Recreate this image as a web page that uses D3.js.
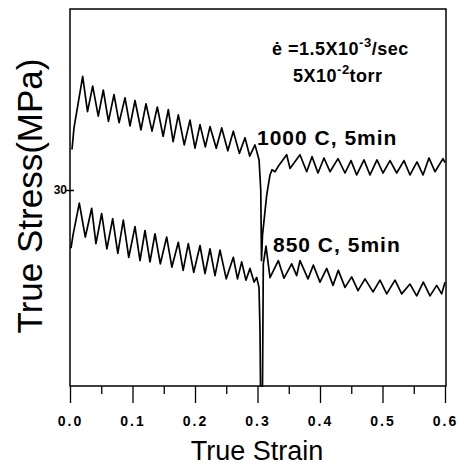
<!DOCTYPE html>
<html><head><meta charset="utf-8">
<script src="https://cdn.jsdelivr.net/npm/d3@7"></script>
<style>html,body{margin:0;padding:0;background:#fff;}svg{display:block;}</style>
</head><body>
<script>
// ---- data (strain, stress in MPa) ----
const xTicks = [0, 0.1, 0.2, 0.3, 0.4, 0.5, 0.6];
const xMinorTicks = [0.05, 0.15, 0.25, 0.35, 0.45, 0.55];
const yTicks = [30];
const labels = ["1000 C, 5min", "850 C, 5min"];
const curve1000 = [
[0.0032,36.2],[0.0064,39.5],[0.0203,47.4],[0.028,42.0],[0.0363,45.9],[0.0452,41.3],[0.0533,45.3],[0.0615,40.5],
[0.0704,44.6],[0.0785,40.3],[0.088,44.1],[0.096,39.8],[0.104,43.7],[0.1135,39.2],[0.1216,43.2],[0.1312,39.0],
[0.1397,42.7],[0.149,38.2],[0.1573,42.3],[0.165,37.4],[0.1733,41.5],[0.1828,36.9],[0.192,40.7],[0.2,36.4],
[0.208,40.0],[0.2165,36.6],[0.224,39.7],[0.234,36.4],[0.2427,39.5],[0.2525,36.0],[0.2613,39.0],[0.271,35.6],
[0.28,38.0],[0.2875,35.2],[0.296,36.9],[0.3025,34.6],[0.3052,30.0],[0.3064,19.2],[0.308,23.1],[0.3147,29.2],
[0.32,32.3],[0.3232,33.1],[0.328,32.8],[0.3344,33.8],[0.3467,35.4],[0.352,33.3],[0.368,35.4],[0.3787,32.8],
[0.3872,35.1],[0.3968,32.6],[0.4064,34.9],[0.416,32.8],[0.4288,34.8],[0.44,32.6],[0.4496,34.5],[0.4587,32.3],
[0.4704,34.6],[0.48,32.3],[0.4912,34.6],[0.5008,32.6],[0.512,34.5],[0.5227,32.6],[0.5344,34.5],[0.544,32.3],
[0.5552,34.3],[0.5648,32.3],[0.5744,34.9],[0.584,32.8],[0.5968,34.8],[0.6,34.2]
];
const curve850 = [
[0.0016,21.1],[0.0048,23.1],[0.0149,28.0],[0.0245,22.8],[0.0347,27.2],[0.0415,21.8],[0.0507,26.4],[0.059,21.0],
[0.0683,25.6],[0.0765,20.3],[0.0853,25.4],[0.094,19.7],[0.104,24.4],[0.112,19.2],[0.12,23.8],[0.128,19.0],
[0.136,23.3],[0.1445,18.7],[0.1547,22.8],[0.163,18.2],[0.1733,22.0],[0.181,17.7],[0.1893,21.8],[0.198,17.4],
[0.208,21.5],[0.216,17.2],[0.224,21.0],[0.232,16.9],[0.24,20.8],[0.25,16.4],[0.2613,19.7],[0.268,16.4],
[0.2747,19.0],[0.2815,16.2],[0.288,18.0],[0.2945,15.9],[0.2987,16.6],[0.3024,15.1],[0.304,8.5],[0.3048,0],
[0.308,0],[0.3093,18.7],[0.3136,21.4],[0.32,16.6],[0.3333,19.2],[0.3424,16.5],[0.3547,18.7],[0.3627,16.9],
[0.368,19.2],[0.3808,16.4],[0.3893,18.5],[0.4,15.9],[0.4107,18.0],[0.4208,15.4],[0.4293,17.7],[0.44,15.1],
[0.4507,16.7],[0.4608,14.6],[0.472,16.4],[0.4848,14.4],[0.496,16.2],[0.5067,14.1],[0.52,16.2],[0.5307,14.1],
[0.544,15.6],[0.5547,13.8],[0.5653,15.9],[0.576,13.8],[0.5867,15.4],[0.5947,14.1],[0.6,15.9]
];

const W = 459, H = 467;
const m = {left:70, right:13, top:9, bottom:81};
const svg = d3.select("body").append("svg").attr("width", W).attr("height", H)
  .style("font-family", "'Liberation Sans', Arial, sans-serif");
svg.append("rect").attr("width", W).attr("height", H).attr("fill", "#fff");

const x = d3.scaleLinear().domain([0, 0.6]).range([m.left, W - m.right - 1]);
const y = d3.scaleLinear().domain([0, 57.7]).range([H - m.bottom, m.top]);

// frame
svg.append("rect").attr("x", x(0)).attr("y", m.top).attr("width", W - m.right - m.left).attr("height", H - m.bottom - m.top)
  .attr("fill", "none").attr("stroke", "#000").attr("stroke-width", 1.5);

// x axis major
const gx = svg.append("g").attr("transform", `translate(0,${H - m.bottom})`)
  .call(d3.axisBottom(x).tickValues(xTicks).tickSize(17).tickSizeOuter(0).tickFormat(d3.format(".1f")));
gx.select(".domain").remove();
gx.selectAll("line").attr("stroke", "#000").attr("stroke-width", 1.3);
gx.selectAll("text").attr("font-size", 14).attr("font-weight", "bold").attr("letter-spacing", 2)
  .attr("fill", "#000").attr("y", 30);
// x minor
const gxm = svg.append("g").attr("transform", `translate(0,${H - m.bottom})`)
  .call(d3.axisBottom(x).tickValues(xMinorTicks).tickSize(8).tickFormat(""));
gxm.select(".domain").remove();
gxm.selectAll("line").attr("stroke", "#000").attr("stroke-width", 1.3);

// y axis
const gy = svg.append("g").attr("transform", `translate(${m.left},0)`)
  .call(d3.axisLeft(y).tickValues(yTicks).tickSize(5).tickSizeOuter(0).tickFormat(d3.format("d")));
gy.select(".domain").remove();
gy.selectAll("line").attr("stroke", "#000").attr("stroke-width", 1.5).attr("x2", 4).attr("x1", -4);
gy.selectAll("text").attr("font-size", 12).attr("font-weight", "bold").attr("fill", "#000").attr("x", -3);

// curves
const line = d3.line().x(d => x(d[0])).y(d => y(d[1]));
svg.append("path").datum(curve1000).attr("d", line).attr("fill", "none").attr("stroke", "#000").attr("stroke-width", 1.7).attr("stroke-linejoin", "round");
svg.append("path").datum(curve850).attr("d", line).attr("fill", "none").attr("stroke", "#000").attr("stroke-width", 1.7).attr("stroke-linejoin", "round");

// curve labels
svg.append("text").attr("x", 257).attr("y", 145).attr("font-size", 21).attr("font-weight", "bold").attr("letter-spacing", 1).text(labels[0]);
svg.append("text").attr("x", 273).attr("y", 252).attr("font-size", 21).attr("font-weight", "bold").attr("letter-spacing", 1).text(labels[1]);

// condition annotation
const t1 = svg.append("text").attr("x", 272).attr("y", 55).attr("font-size", 18).attr("font-weight", "bold").attr("letter-spacing", 0.5);
t1.append("tspan").text("\u0117 =1.5X10");
t1.append("tspan").attr("dy", -8).attr("font-size", 13).text("-3");
t1.append("tspan").attr("dy", 8).text("/sec");
const t2 = svg.append("text").attr("x", 293).attr("y", 82).attr("font-size", 18).attr("font-weight", "bold").attr("letter-spacing", 0.5);
t2.append("tspan").text("5X10");
t2.append("tspan").attr("dy", -8).attr("font-size", 13).text("-2");
t2.append("tspan").attr("dy", 8).text("torr");

// axis titles
svg.append("text").attr("x", (m.left + W - m.right) / 2 - 1).attr("y", 460).attr("text-anchor", "middle")
  .attr("font-size", 27).text("True Strain");
svg.append("text").attr("transform", "translate(42,196) rotate(-90)").attr("text-anchor", "middle")
  .attr("font-size", 35).text("True Stress(MPa)");
</script>
</body></html>
